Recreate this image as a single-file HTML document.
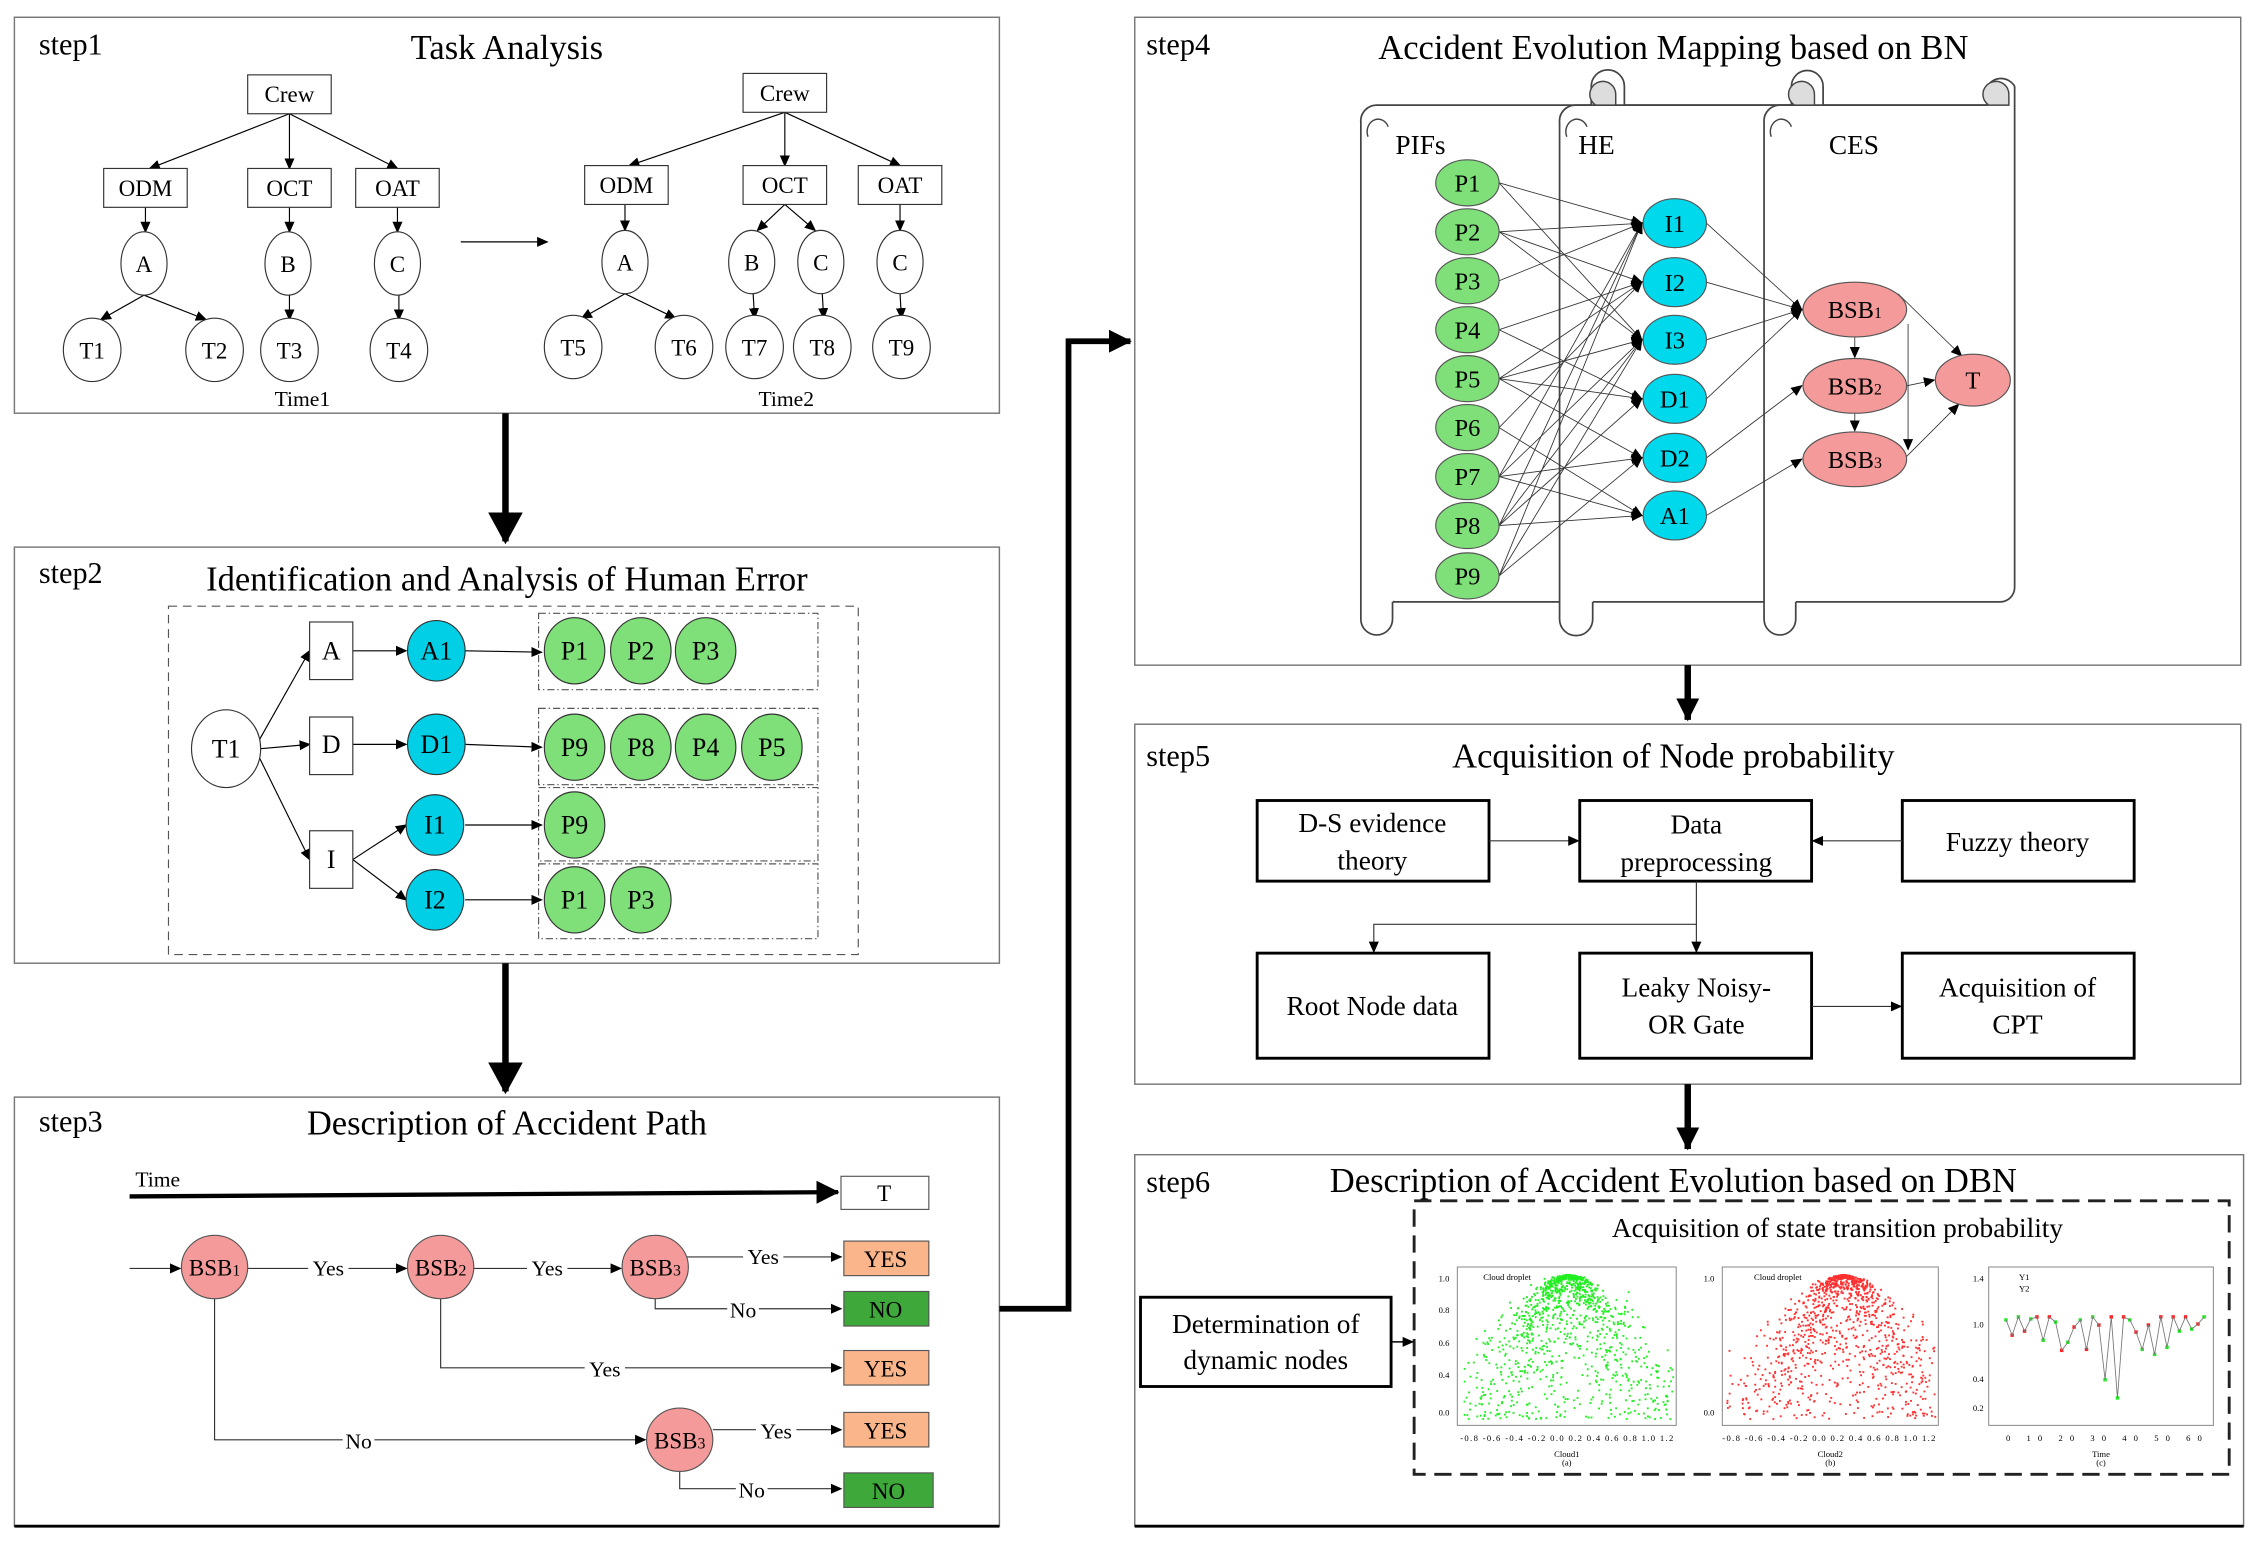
<!DOCTYPE html>
<html><head><meta charset="utf-8"><style>
html,body{margin:0;padding:0;background:#fff;}
svg{display:block;}
text{font-family:"Liberation Serif",serif;fill:#000;}
</style></head><body>
<svg id="s" width="2258" height="1542" viewBox="0 0 1568 1071" preserveAspectRatio="none" xmlns="http://www.w3.org/2000/svg">
<defs>
<marker id="a" markerWidth="8" markerHeight="8" refX="7" refY="4" orient="auto" markerUnits="userSpaceOnUse"><path d="M0,0.5 L8,4 L0,7.5z" fill="#000"/></marker>
<marker id="big" markerWidth="22" markerHeight="24" refX="20" refY="12" orient="auto" markerUnits="userSpaceOnUse"><path d="M0,0 L22,12 L0,24z" fill="#000"/></marker>
<marker id="mid" markerWidth="16" markerHeight="16" refX="15" refY="8" orient="auto" markerUnits="userSpaceOnUse"><path d="M0,0 L16,8 L0,16z" fill="#000"/></marker>
</defs>
<g fill="none" stroke="#777" stroke-width="1">
<rect x="10" y="12" width="684" height="275"/>
<rect x="10" y="380" width="684" height="289"/>
<rect x="10" y="762" width="684" height="298"/>
<rect x="788" y="12" width="768" height="450"/>
<rect x="788" y="503" width="768" height="250"/>
<rect x="788" y="802" width="770" height="258"/>
</g>
<line x1="10" y1="1060" x2="694" y2="1060" stroke="#000" stroke-width="2"/>
<line x1="788" y1="1060" x2="1558" y2="1060" stroke="#000" stroke-width="2"/>
<g font-size="21">
<text x="27" y="38">step1</text><text x="27" y="405">step2</text><text x="27" y="786">step3</text>
<text x="796" y="38">step4</text><text x="796" y="532">step5</text><text x="796" y="828">step6</text>
</g>
<g font-size="24" text-anchor="middle">
<text x="352" y="41">Task Analysis</text>
<text x="352" y="410">Identification and Analysis of Human Error</text>
<text x="352" y="788">Description of Accident Path</text>
<text x="1162" y="41">Accident Evolution Mapping based on BN</text>
<text x="1162" y="533">Acquisition of Node probability</text>
<text x="1162" y="828">Description of Accident Evolution based on DBN</text>
</g>
<!-- step1 -->
<g stroke="#000" stroke-width="0.8" fill="none" marker-end="url(#a)">
<line x1="201" y1="79" x2="104" y2="117"/><line x1="201" y1="79" x2="201" y2="117"/><line x1="201" y1="79" x2="276" y2="117"/>
<line x1="101" y1="144" x2="101" y2="161"/><line x1="201" y1="144" x2="201" y2="161"/><line x1="276" y1="144" x2="276" y2="161"/>
<line x1="100" y1="205" x2="70" y2="222"/><line x1="100" y1="205" x2="143" y2="222"/><line x1="201" y1="205" x2="201" y2="222"/><line x1="277" y1="205" x2="277" y2="222"/>
<line x1="545" y1="78" x2="437" y2="115"/><line x1="545" y1="78" x2="545" y2="115"/><line x1="545" y1="78" x2="625" y2="115"/>
<line x1="434" y1="142" x2="434" y2="160"/><line x1="545" y1="142" x2="526" y2="160"/><line x1="545" y1="142" x2="566" y2="160"/><line x1="625" y1="142" x2="625" y2="160"/>
<line x1="434" y1="204" x2="404" y2="221"/><line x1="434" y1="204" x2="469" y2="221"/><line x1="523" y1="204" x2="524" y2="221"/><line x1="571" y1="204" x2="572" y2="221"/><line x1="625" y1="204" x2="626" y2="221"/>
<line x1="320" y1="168" x2="380" y2="168"/>
</g>
<g stroke="#333" stroke-width="0.8" fill="#fff">
<rect x="172" y="52" width="58" height="27"/><rect x="72" y="117" width="58" height="27"/><rect x="172" y="117" width="58" height="27"/><rect x="247" y="117" width="58" height="27"/>
<rect x="516" y="51" width="58" height="27"/><rect x="406" y="115" width="58" height="27"/><rect x="516" y="115" width="58" height="27"/><rect x="596" y="115" width="58" height="27"/>
<ellipse cx="100" cy="183" rx="16" ry="22"/><ellipse cx="200" cy="183" rx="16" ry="22"/><ellipse cx="276" cy="183" rx="16" ry="22"/>
<ellipse cx="64" cy="243" rx="20" ry="22"/><ellipse cx="149" cy="243" rx="20" ry="22"/><ellipse cx="201" cy="243" rx="20" ry="22"/><ellipse cx="277" cy="243" rx="20" ry="22"/>
<ellipse cx="434" cy="182" rx="16" ry="22"/><ellipse cx="522" cy="182" rx="16" ry="22"/><ellipse cx="570" cy="182" rx="16" ry="22"/><ellipse cx="625" cy="182" rx="16" ry="22"/>
<ellipse cx="398" cy="241" rx="20" ry="22"/><ellipse cx="475" cy="241" rx="20" ry="22"/><ellipse cx="524" cy="241" rx="20" ry="22"/><ellipse cx="571" cy="241" rx="20" ry="22"/><ellipse cx="626" cy="241" rx="20" ry="22"/>
</g>
<g font-size="16" text-anchor="middle">
<text x="201" y="71">Crew</text><text x="101" y="136">ODM</text><text x="201" y="136">OCT</text><text x="276" y="136">OAT</text>
<text x="545" y="70">Crew</text><text x="435" y="134">ODM</text><text x="545" y="134">OCT</text><text x="625" y="134">OAT</text>
<text x="100" y="189">A</text><text x="200" y="189">B</text><text x="276" y="189">C</text>
<text x="64" y="249">T1</text><text x="149" y="249">T2</text><text x="201" y="249">T3</text><text x="277" y="249">T4</text>
<text x="434" y="188">A</text><text x="522" y="188">B</text><text x="570" y="188">C</text><text x="625" y="188">C</text>
<text x="398" y="247">T5</text><text x="475" y="247">T6</text><text x="524" y="247">T7</text><text x="571" y="247">T8</text><text x="626" y="247">T9</text>
<text x="210" y="282" font-size="15">Time1</text><text x="546" y="282" font-size="15">Time2</text>
</g>
<!-- big arrows -->
<g stroke="#000" stroke-width="4.5" fill="none">
<line x1="351" y1="287" x2="351" y2="376" marker-end="url(#big)"/>
<line x1="351" y1="669" x2="351" y2="758" marker-end="url(#big)"/>
<line x1="1172" y1="462" x2="1172" y2="500" marker-end="url(#mid)"/>
<line x1="1172" y1="753" x2="1172" y2="798" marker-end="url(#mid)"/>
<polyline points="694,909 742,909 742,237 785,237" marker-end="url(#mid)" stroke-width="4"/>
</g>
<!-- step2 -->
<rect x="117" y="421" width="479" height="242" fill="none" stroke="#555" stroke-width="0.8" stroke-dasharray="6,4"/>
<g fill="none" stroke="#555" stroke-width="0.8" stroke-dasharray="5,2,1,2">
<rect x="374" y="426" width="194" height="53"/><rect x="374" y="492" width="194" height="53"/><rect x="374" y="547" width="194" height="51"/><rect x="374" y="600" width="194" height="52"/>
</g>
<g stroke="#000" stroke-width="0.8" marker-end="url(#a)">
<line x1="180" y1="514" x2="215" y2="452"/><line x1="181" y1="520" x2="215" y2="517"/><line x1="180" y1="526" x2="215" y2="597"/>
<line x1="245" y1="452" x2="282" y2="452"/><line x1="245" y1="517" x2="282" y2="517"/>
<line x1="245" y1="597" x2="282" y2="573"/><line x1="245" y1="597" x2="282" y2="625"/>
<line x1="323" y1="452" x2="376" y2="453"/><line x1="323" y1="517" x2="376" y2="519"/><line x1="323" y1="573" x2="376" y2="573"/><line x1="323" y1="625" x2="376" y2="625"/>
</g>
<g stroke="#333" stroke-width="0.8">
<ellipse cx="157" cy="520" rx="24" ry="27" fill="#fff"/>
<rect x="215" y="432" width="30" height="40" fill="#fff"/><rect x="215" y="498" width="30" height="40" fill="#fff"/><rect x="215" y="577" width="30" height="40" fill="#fff"/>
<g fill="#00cfe6"><ellipse cx="303" cy="452" rx="20" ry="21"/><ellipse cx="303" cy="517" rx="20" ry="21"/><ellipse cx="302" cy="573" rx="20" ry="21"/><ellipse cx="302" cy="625" rx="20" ry="21"/></g>
<g fill="#7fe07a"><ellipse cx="399" cy="452" rx="21" ry="23"/><ellipse cx="445" cy="452" rx="21" ry="23"/><ellipse cx="490" cy="452" rx="21" ry="23"/>
<ellipse cx="399" cy="519" rx="21" ry="23"/><ellipse cx="445" cy="519" rx="21" ry="23"/><ellipse cx="490" cy="519" rx="21" ry="23"/><ellipse cx="536" cy="519" rx="21" ry="23"/>
<ellipse cx="399" cy="573" rx="21" ry="23"/><ellipse cx="399" cy="625" rx="21" ry="23"/><ellipse cx="445" cy="625" rx="21" ry="23"/></g>
</g>
<g font-size="18" text-anchor="middle">
<text x="157" y="526">T1</text><text x="230" y="458">A</text><text x="230" y="523">D</text><text x="230" y="603">I</text>
<text x="303" y="458">A1</text><text x="303" y="523">D1</text><text x="302" y="579">I1</text><text x="302" y="631">I2</text>
<text x="399" y="458">P1</text><text x="445" y="458">P2</text><text x="490" y="458">P3</text>
<text x="399" y="525">P9</text><text x="445" y="525">P8</text><text x="490" y="525">P4</text><text x="536" y="525">P5</text>
<text x="399" y="579">P9</text><text x="399" y="631">P1</text><text x="445" y="631">P3</text>
</g>
<!-- step3 -->
<text x="94" y="824" font-size="15">Time</text>
<line x1="90" y1="831" x2="582" y2="828" stroke="#000" stroke-width="3" marker-end="url(#mid)"/>
<rect x="584" y="817" width="61" height="23" fill="#fff" stroke="#555" stroke-width="0.8"/>
<text x="614" y="834" font-size="16" text-anchor="middle">T</text>
<g stroke="#333" stroke-width="0.8" fill="none">
<polyline points="149,902 149,1000 448,1000" marker-end="url(#a)"/>
<polyline points="306,902 306,950 584,950" marker-end="url(#a)"/>
<polyline points="455,902 455,909 584,909" marker-end="url(#a)"/>
<polyline points="472,1022 472,1034 584,1034" marker-end="url(#a)"/>
<line x1="90" y1="881" x2="125" y2="881" marker-end="url(#a)"/>
<line x1="172" y1="881" x2="282" y2="881" marker-end="url(#a)"/>
<line x1="329" y1="881" x2="431" y2="881" marker-end="url(#a)"/>
<line x1="477" y1="873" x2="584" y2="873" marker-end="url(#a)"/>
<line x1="495" y1="993" x2="584" y2="993" marker-end="url(#a)"/>
</g>
<g font-size="15" text-anchor="middle">
<rect x="214" y="872" width="28" height="16" fill="#fff"/><text x="228" y="886">Yes</text>
<rect x="366" y="872" width="28" height="16" fill="#fff"/><text x="380" y="886">Yes</text>
<rect x="516" y="864" width="28" height="16" fill="#fff"/><text x="530" y="878">Yes</text>
<rect x="505" y="901" width="22" height="16" fill="#fff"/><text x="516" y="915">No</text>
<rect x="406" y="942" width="28" height="16" fill="#fff"/><text x="420" y="956">Yes</text>
<rect x="238" y="992" width="22" height="16" fill="#fff"/><text x="249" y="1006">No</text>
<rect x="525" y="985" width="28" height="16" fill="#fff"/><text x="539" y="999">Yes</text>
<rect x="511" y="1026" width="22" height="16" fill="#fff"/><text x="522" y="1040">No</text>
</g>
<g stroke="#555" stroke-width="0.8" fill="#f59a9a">
<ellipse cx="149" cy="880" rx="23" ry="22"/><ellipse cx="306" cy="880" rx="23" ry="22"/><ellipse cx="455" cy="880" rx="23" ry="22"/><ellipse cx="472" cy="1000" rx="23" ry="22"/>
</g>
<g font-size="16" text-anchor="middle">
<text x="149" y="886">BSB<tspan font-size="11">1</tspan></text><text x="306" y="886">BSB<tspan font-size="11">2</tspan></text>
<text x="455" y="886">BSB<tspan font-size="11">3</tspan></text><text x="472" y="1006">BSB<tspan font-size="11">3</tspan></text>
</g>
<g stroke="#555" stroke-width="0.8">
<rect x="586" y="862" width="59" height="24" fill="#fbb58a"/><rect x="586" y="897" width="59" height="24" fill="#3ea83a"/>
<rect x="586" y="938" width="59" height="24" fill="#fbb58a"/><rect x="586" y="981" width="59" height="24" fill="#fbb58a"/>
<rect x="586" y="1023" width="62" height="24" fill="#3ea83a"/>
</g>
<g font-size="16" text-anchor="middle">
<text x="615" y="880">YES</text><text x="615" y="915">NO</text><text x="615" y="956">YES</text><text x="615" y="999">YES</text><text x="617" y="1041">NO</text>
</g>
<!-- step4 scrolls -->
<g stroke="#444" stroke-width="1.2" fill="#fff">
<path d="M1105,73 L1380,73 L1380,60 A11,11 0 0 1 1399,60 L1399,408 A10,10 0 0 1 1389,418 L967,418 L967,80 L1105,80z"/>
<path d="M967,418 L967,430 A11,11 0 0 1 945,430 L945,85 A11,11 0 0 1 956,73 L1105,73 L1105,60 A11,11 0 0 1 1128,60 L1128,73"/>
<path d="M1106,418 L1106,430 A11,11 0 0 1 1083,430 L1083,85 A11,11 0 0 1 1094,73 L1244,73 L1244,60 A11,11 0 0 1 1266,60 L1266,73"/>
<path d="M1247,418 L1247,430 A11,11 0 0 1 1225,430 L1225,85 A11,11 0 0 1 1236,73 L1380,73"/>
</g>
<g fill="#ddd" stroke="#444" stroke-width="1">
<path d="M1108,73 A9,9 0 1 1 1122,66 L1122,73z"/><path d="M1246,73 A9,9 0 1 1 1260,66 L1260,73z"/><path d="M1381,73 A9,9 0 1 1 1395,66 L1395,73z"/>
</g>
<g fill="#fff" stroke="#444" stroke-width="1">
<path d="M950,95 A7,8 0 1 1 964,88"/><path d="M1088,95 A7,8 0 1 1 1102,88"/><path d="M1230,95 A7,8 0 1 1 1244,88"/>
</g>
<g font-size="19"><text x="969" y="107">PIFs</text><text x="1096" y="107">HE</text><text x="1270" y="107">CES</text></g>
<g stroke="#333" stroke-width="0.6" marker-end="url(#a)" id="edges"></g>
<g id="nodes"></g>
<!-- step5 -->
<g stroke="#000" stroke-width="2" fill="#fff">
<rect x="873" y="556" width="161" height="56"/><rect x="1097" y="556" width="161" height="56"/><rect x="1321" y="556" width="161" height="56"/>
<rect x="873" y="662" width="161" height="73"/><rect x="1097" y="662" width="161" height="73"/><rect x="1321" y="662" width="161" height="73"/>
</g>
<g stroke="#333" stroke-width="0.8" fill="none" marker-end="url(#a)">
<line x1="1034" y1="584" x2="1096" y2="584"/><line x1="1321" y1="584" x2="1259" y2="584"/>
<polyline points="1178,612 1178,642 954,642 954,661"/><line x1="1178" y1="642" x2="1178" y2="661"/>
<line x1="1258" y1="699" x2="1320" y2="699"/>
</g>
<g font-size="19" text-anchor="middle">
<text x="953" y="578">D-S evidence</text><text x="953" y="604">theory</text>
<text x="1178" y="579">Data</text><text x="1178" y="605">preprocessing</text>
<text x="1401" y="591">Fuzzy theory</text>
<text x="953" y="705">Root Node data</text>
<text x="1178" y="692">Leaky Noisy-</text><text x="1178" y="718">OR Gate</text>
<text x="1401" y="692">Acquisition of</text><text x="1401" y="718">CPT</text>
</g>
<!-- step6 -->
<rect x="982" y="834" width="566" height="190" fill="none" stroke="#222" stroke-width="2" stroke-dasharray="12,6"/>
<text x="1276" y="859" font-size="19" text-anchor="middle">Acquisition of state transition probability</text>
<rect x="792" y="901" width="174" height="62" fill="#fff" stroke="#000" stroke-width="2"/>
<text x="879" y="926" font-size="19" text-anchor="middle">Determination of</text>
<text x="879" y="951" font-size="19" text-anchor="middle">dynamic nodes</text>
<line x1="966" y1="932" x2="981" y2="932" stroke="#000" stroke-width="1" marker-end="url(#a)"/>
<g fill="none" stroke="#888" stroke-width="0.7">
<rect x="1012" y="880" width="152" height="110"/><rect x="1196" y="880" width="150" height="110"/><rect x="1381" y="880" width="156" height="110"/>
</g>
<g id="plots"></g>
<g font-size="6" fill="#333">
<text x="1030" y="889">Cloud droplet</text><text x="1218" y="889">Cloud droplet</text><text x="1402" y="889">Y1</text><text x="1402" y="897">Y2</text>
<text x="1088" y="1012" text-anchor="middle">Cloud1</text><text x="1088" y="1018" text-anchor="middle">(a)</text>
<text x="1271" y="1012" text-anchor="middle">Cloud2</text><text x="1271" y="1018" text-anchor="middle">(b)</text>
<text x="1459" y="1012" text-anchor="middle">Time</text><text x="1459" y="1018" text-anchor="middle">(c)</text>
<text x="1014" y="1001" textLength="148">-0.8 -0.6 -0.4 -0.2 0.0 0.2 0.4 0.6 0.8 1.0 1.2</text>
<text x="1196" y="1001" textLength="148">-0.8 -0.6 -0.4 -0.2 0.0 0.2 0.4 0.6 0.8 1.0 1.2</text>
<text x="1393" y="1001" textLength="136">0 10 20 30 40 50 60</text>
<text x="999" y="890">1.0</text><text x="999" y="912">0.8</text><text x="999" y="935">0.6</text><text x="999" y="957">0.4</text><text x="999" y="983">0.0</text>
<text x="1183" y="890">1.0</text><text x="1183" y="983">0.0</text>
<text x="1370" y="890">1.4</text><text x="1370" y="922">1.0</text><text x="1370" y="960">0.4</text><text x="1370" y="980">0.2</text>
</g>
</svg>
<script>
(function(){
var NS="http://www.w3.org/2000/svg";
function el(t,a,p){var e=document.createElementNS(NS,t);for(var k in a)e.setAttribute(k,a[k]);(p||document.getElementById('s')).appendChild(e);return e;}
var P=[127,161,195,229,263,297,331,365,400], H={I1:155,I2:196,I3:236,D1:277,D2:318,A1:358};
var E=[[1,'I1'],[1,'I3'],[2,'I1'],[2,'I2'],[2,'I3'],[3,'I1'],[4,'I2'],[4,'D1'],[5,'I2'],[5,'I3'],[5,'D1'],[5,'D2'],[6,'I2'],[6,'A1'],[7,'I1'],[7,'I3'],[7,'D2'],[7,'A1'],[8,'I1'],[8,'I3'],[8,'D1'],[8,'A1'],[9,'I3'],[9,'D2'],[9,'I1']];
var g=document.getElementById('edges');
E.forEach(function(e){el('line',{x1:1041,y1:P[e[0]-1],x2:1140,y2:H[e[1]]},g);});
[['I1',215],['I2',215],['I3',215],['D1',215],['D2',268],['A1',319]].forEach(function(e){el('line',{x1:1185,y1:H[e[0]],x2:1251,y2:e[1]},g);});
el('line',{x1:1288,y1:234,x2:1288,y2:248},g);el('line',{x1:1288,y1:287,x2:1288,y2:299},g);
el('line',{x1:1318,y1:204,x2:1362,y2:247},g);el('line',{x1:1324,y1:268,x2:1343,y2:264},g);el('line',{x1:1324,y1:317,x2:1360,y2:281},g);
el('line',{x1:1325,y1:225,x2:1325,y2:312},g);
var n=document.getElementById('nodes');
function node(x,y,rx,ry,f,t,sub){el('ellipse',{cx:x,cy:y,rx:rx,ry:ry,fill:f,stroke:'#555','stroke-width':0.8},n);var tx=el('text',{x:x,y:y+6,'font-size':17,'text-anchor':'middle'},n);tx.textContent=t;if(sub){var s=el('tspan',{'font-size':11},tx);s.textContent=sub;}}
P.forEach(function(y,i){node(1019,y,22,16,'#7fe07a','P'+(i+1));});
for(var k in H)node(1163,H[k],22,17,'#00d8ec',k);
node(1288,215,36,19,'#f59a9a','BSB','1');node(1288,268,36,19,'#f59a9a','BSB','2');node(1288,319,36,19,'#f59a9a','BSB','3');node(1370,264,26,18,'#f59a9a','T');
var pl=document.getElementById('plots');var seed=7;function r(){seed=(seed*16807)%2147483647;return seed/2147483647;}
function gauss(){return Math.sqrt(-2*Math.log(r()+1e-9))*Math.cos(6.2832*r());}
function cloud(x0,col,ex){for(var i=0;i<1300;i++){var enp=0.35*(1+0.6*gauss());var x=ex+enp*gauss()*1.3;var d=Math.exp(-(x-ex)*(x-ex)/(2*enp*enp+1e-6));var px=x0+(x+0.85)/2.1*150;var py=985-d*100;if(px>x0+2&&px<x0+150&&py>884)el('rect',{x:px,y:py,width:1.3,height:1.3,fill:col},pl);}}
cloud(1012,'#22ee22',0.22);cloud(1196,'#ff3030',0.32);
var pts='',ys=[.97,.82,1,.86,.98,1,.77,1,.95,.67,.75,.9,.97,.68,1,.92,.38,1,.2,1,.97,.85,.68,.92,.63,1,.7,1,.86,1,.88,.93,1];
ys.forEach(function(v,i){var px=1393+i*4.3,py=978-(v-0.1)/1.35*95;pts+=px+','+py+' ';el('rect',{x:px-1.2,y:py-1.2,width:2.4,height:2.4,fill:i%2?'#f22':'#2e2'},pl);});
el('polyline',{points:pts,fill:'none',stroke:'#777','stroke-width':0.6},pl);
})();
</script>
</body></html>
